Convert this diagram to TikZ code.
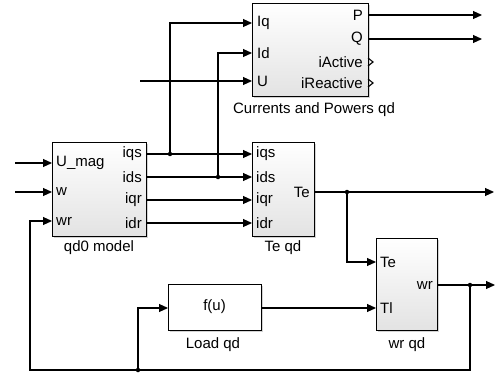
\documentclass[tikz,border=0pt]{standalone}
\usepackage{fontspec}
\setmainfont{Liberation Sans}
\usetikzlibrary{arrows.meta,shadows,calc}
\begin{document}
\begin{tikzpicture}[x=1pt,y=-1pt,
  font=\fontsize{15}{17}\selectfont,
  sig/.style={line width=1.1pt,-{Triangle[length=9pt,width=8pt]}},
  wire/.style={line width=1.1pt},
  blk/.style={draw,line width=0.9pt,inner sep=0pt,top color=white,bottom color=gray!22,
    drop shadow={shadow xshift=2pt,shadow yshift=-2pt,opacity=0.35}},
  fcn/.style={draw,line width=0.9pt,inner sep=0pt,fill=white,
    drop shadow={shadow xshift=2pt,shadow yshift=-2pt,opacity=0.35}},
  pin/.style={anchor=west,inner sep=0pt},
  pout/.style={anchor=east,inner sep=0pt},
  blkcap/.style={inner sep=0pt},
  dot/.style={circle,fill,inner sep=0pt,minimum size=4.5pt}]
\useasboundingbox (0,0) rectangle (500,374);
% blocks
\node[blk,minimum width=116pt,minimum height=93pt] (cp) at (310,49.5) {};
\node[blk,minimum width=94pt,minimum height=94pt] (qd0) at (99,189) {};
\node[blk,minimum width=62pt,minimum height=94pt] (te) at (283,189) {};
\node[blk,minimum width=61pt,minimum height=92pt] (wr) at (406.5,284) {};
\node[fcn,minimum width=93pt,minimum height=46pt] (load) at (214.5,307) {f(u)};
% captions
\node[blkcap] (cpcap) at (314,110) {Currents and Powers qd};
\node[blkcap] (qd0cap) at (99,248) {qd0 model};
\node[blkcap] (tecap) at (283,248) {Te qd};
\node[blkcap] (loadcap) at (213,345) {Load qd};
\node[blkcap] (wrcap) at (407,345) {wr qd};
% port labels
\node[pin] (l-iq) at (257,23) {Iq};
\node[pin] (l-id) at (257,53) {Id};
\node[pin] (l-u) at (257,81) {U};
\node[pout] (l-p) at (363,15) {P};
\node[pout] (l-q) at (363,39) {Q};
\node[pout] (l-ia) at (363,62) {iActive};
\node[pout] (l-ir) at (363,83) {iReactive};
\node[pin] (l-umag) at (56,163) {U\_mag};
\node[pin] (l-w) at (56,192) {w};
\node[pin] (l-wr) at (56,221) {wr};
\node[pout] (l-iqs) at (142,154) {iqs};
\node[pout] (l-ids) at (142,177) {ids};
\node[pout] (l-iqr) at (142,200) {iqr};
\node[pout] (l-idr) at (142,223) {idr};
\node[pin] (t-iqs) at (256,154) {iqs};
\node[pin] (t-ids) at (256,177) {ids};
\node[pin] (t-iqr) at (256,200) {iqr};
\node[pin] (t-idr) at (256,223) {idr};
\node[pout] (t-te) at (310,192) {Te};
\node[pin] (w-te) at (380,262) {Te};
\node[pin] (w-tl) at (380,308) {Tl};
\node[pout] (w-wr) at (433,285) {wr};
% coordinates
\coordinate (cpIq) at (252,23);
\coordinate (cpId) at (252,53);
\coordinate (cpU) at (252,81);
\coordinate (cpP) at (368,15);
\coordinate (cpQ) at (368,39);
\coordinate (uin) at (140,81);
\coordinate (pend) at (482,15);
\coordinate (qend) at (482,39);
\coordinate (q0umag) at (52,163);
\coordinate (q0w) at (52,192);
\coordinate (q0wr) at (52,221);
\coordinate (umagin) at (15,163);
\coordinate (win) at (15,192);
\coordinate (q0iqs) at (146,154);
\coordinate (q0ids) at (146,177);
\coordinate (q0iqr) at (146,200);
\coordinate (q0idr) at (146,223);
\coordinate (teiqs) at (252,154);
\coordinate (teids) at (252,177);
\coordinate (teiqr) at (252,200);
\coordinate (teidr) at (252,223);
\coordinate (teout) at (314,192);
\coordinate (teend) at (494,192);
\coordinate (wrte) at (376,262);
\coordinate (wrtl) at (376,308);
\coordinate (wrout) at (437,285);
\coordinate (wrend) at (495,285);
\coordinate (loadin) at (168,308);
\coordinate (loadout) at (261,308);
\coordinate (c1) at (470,370);
\coordinate (c2) at (30,370);
\coordinate (c3) at (30,221);
% junctions
\node[dot] (j1) at (170,154) {};
\node[dot] (j2) at (218,177) {};
\node[dot] (j3) at (347,192) {};
\node[dot] (j4) at (470,285) {};
\node[dot] (j5) at (138,370) {};
% connections
\draw[sig] (uin) -- (cpU);
\draw[sig] (cpP) -- (pend);
\draw[sig] (cpQ) -- (qend);
\draw[sig] (umagin) -- (q0umag);
\draw[sig] (win) -- (q0w);
\draw[sig] (q0iqs) -- (teiqs);
\draw[sig] (q0ids) -- (teids);
\draw[sig] (q0iqr) -- (teiqr);
\draw[sig] (q0idr) -- (teidr);
\draw[sig] (j1.center) |- (cpIq);
\draw[sig] (j2.center) |- (cpId);
\draw[sig] (teout) -- (teend);
\draw[sig] (j3.center) |- (wrte);
\draw[sig] (wrout) -- (wrend);
\draw[sig] (j4.center) -- (c1) -- (c2) -- (c3) -- (q0wr);
\draw[sig] (j5.center) |- (loadin);
\draw[sig] (loadout) -- (wrtl);
% open output ports
\draw[line width=1.1pt] (368,58) -- (373,62) -- (368,66);
\draw[line width=1.1pt] (368,79) -- (373,83) -- (368,87);
\end{tikzpicture}
\end{document}
